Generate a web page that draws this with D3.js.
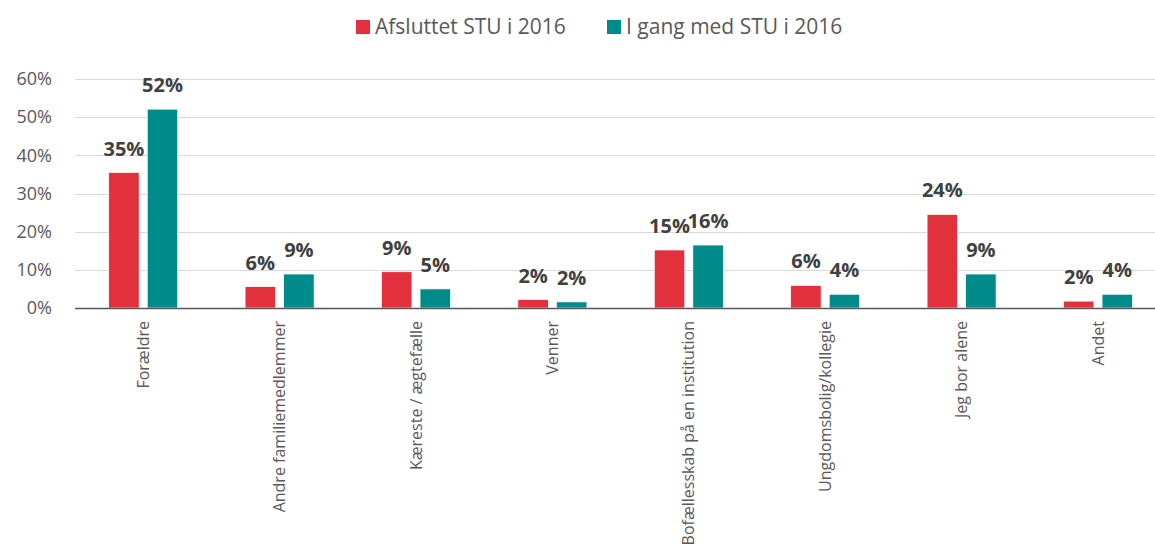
<!DOCTYPE html>
<html lang="da">
    <head>
        <meta charset="UTF-8" />
        <title>Boform STU</title>
        <script src="https://cdn.jsdelivr.net/npm/d3@7"></script>
        <style>
            body { margin: 0; padding: 0; background: #fff; }
            text { font-family: 'Open Sans', sans-serif; fill: #595959; }
            .value { font-weight: bold; fill: #404040; font-size: 20px; }
            .grid line { stroke: #d9d9d9; stroke-width: 1; }
        </style>
    </head>
    <body>
        <svg width="1155" height="547"></svg>
        <script>
            var categories = ['Forældre', 'Andre familiemedlemmer', 'Kæreste / ægtefælle', 'Venner',
                'Bofællesskab på en institution', 'Ungdomsbolig/kollegie', 'Jeg bor alene', 'Andet'];
            var seriesNames = ['Afsluttet STU i 2016', 'I gang med STU i 2016'];
            var afsluttet = [35.5, 5.6, 9.5, 2.2, 15.2, 5.9, 24.5, 1.8];
            var iGang = [52.1, 8.9, 5.0, 1.6, 16.5, 3.6, 8.9, 3.6];
            var labelsAfsluttet = ['35%', '6%', '9%', '2%', '15%', '6%', '24%', '2%'];
            var labelsIGang = ['52%', '9%', '5%', '2%', '16%', '4%', '9%', '4%'];
            var yTicks = [0, 10, 20, 30, 40, 50, 60];
            var colors = ['#e3303d', '#008b8b'];

            var svg = d3.select('svg');
            var margin = { left: 75, top: 79, bottom: 308 };
            var step = 136.4;

            var x = d3.scaleBand()
                .domain(categories)
                .range([margin.left, margin.left + step * categories.length])
                .paddingInner(0.494)
                .paddingOuter(0.247);
            var x1 = d3.scaleBand()
                .domain([0, 1])
                .range([0, x.bandwidth()])
                .paddingInner(0.21);
            var y = d3.scaleLinear().domain([0, 60]).range([margin.bottom, margin.top]);

            // gridlines
            svg.append('g').attr('class', 'grid')
                .selectAll('line').data(yTicks.slice(1)).join('line')
                .attr('x1', margin.left).attr('x2', 1155)
                .attr('y1', d => Math.round(y(d)) + 0.5).attr('y2', d => Math.round(y(d)) + 0.5);

            // y tick labels
            svg.append('g').selectAll('text').data(yTicks).join('text')
                .attr('x', 52).attr('y', d => y(d)).attr('dy', '0.35em')
                .attr('text-anchor', 'end').style('font-size', '18px')
                .text(d => d + '%');

            var rows = categories.map((c, i) => [
                { c: c, s: 0, v: afsluttet[i], l: labelsAfsluttet[i] },
                { c: c, s: 1, v: iGang[i], l: labelsIGang[i] }
            ]);

            var groups = svg.append('g').selectAll('g').data(rows).join('g')
                .attr('transform', d => 'translate(' + x(d[0].c) + ',0)');

            groups.selectAll('rect').data(d => d).join('rect')
                .attr('x', d => x1(d.s)).attr('width', x1.bandwidth())
                .attr('y', d => y(d.v)).attr('height', d => y(0) - y(d.v))
                .attr('fill', d => colors[d.s])
                .attr('stroke', '#fff').attr('stroke-width', 0.7);

            groups.selectAll('text').data(d => d).join('text')
                .attr('class', 'value')
                .attr('x', d => x1(d.s) + x1.bandwidth() / 2)
                .attr('y', d => y(d.v) - 17)
                .attr('text-anchor', 'middle')
                .text(d => d.l);

            // baseline
            svg.append('line')
                .attr('x1', margin.left).attr('x2', 1155)
                .attr('y1', y(0) + 0.5).attr('y2', y(0) + 0.5)
                .attr('stroke', '#595959').attr('stroke-width', 1.3);

            // category labels
            svg.append('g').selectAll('text').data(categories).join('text')
                .attr('transform', d => 'translate(' + (x(d) + x.bandwidth() / 2) + ',' + (margin.bottom + 13) + ') rotate(-90)')
                .attr('dy', '0.35em')
                .attr('text-anchor', 'end')
                .style('font-size', '16px')
                .text(d => d);

            // legend
            var legend = svg.append('g').attr('transform', 'translate(356,27)');
            var lx = [0, 251];
            seriesNames.forEach(function(name, i) {
                legend.append('rect').attr('x', lx[i]).attr('y', -7).attr('width', 14).attr('height', 14)
                    .attr('fill', colors[i]);
                legend.append('text').attr('x', lx[i] + 19).attr('y', 0).attr('dy', '0.35em')
                    .style('font-size', '21px').text(name);
            });
        </script>
    </body>
</html>
